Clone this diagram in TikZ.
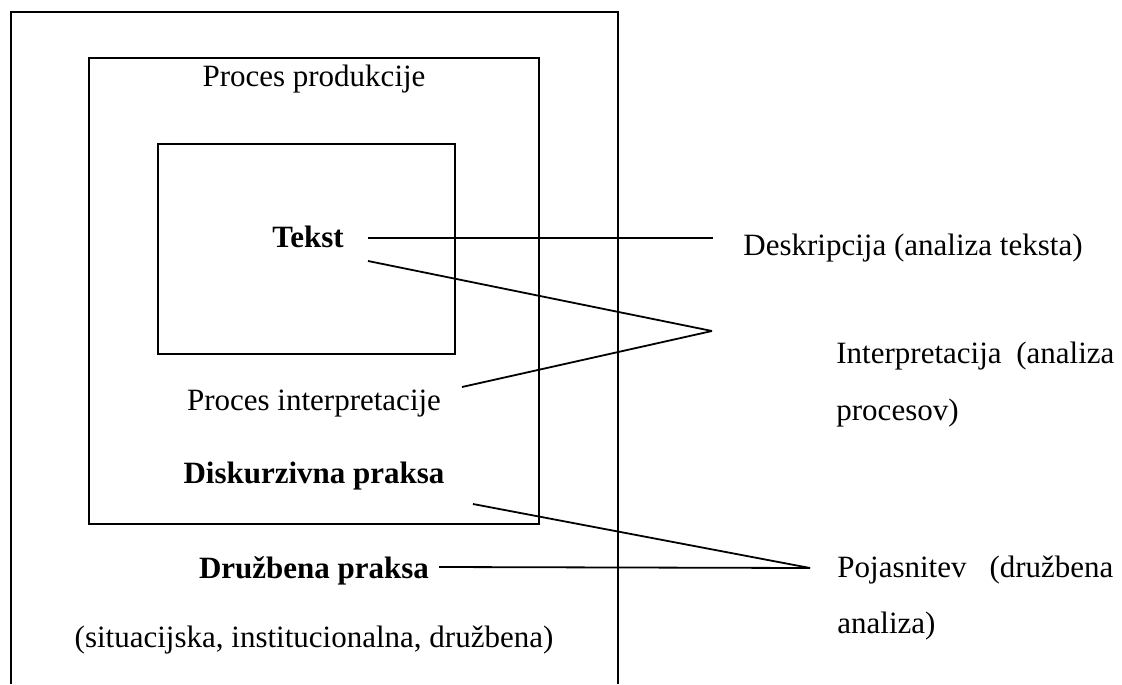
\documentclass[tikz,border=0pt]{standalone}
\usepackage{fontspec}
\setmainfont{Liberation Serif}
\usepackage{tikz}

\begin{document}
\begin{tikzpicture}[
    x=0.5pt, y=-0.5pt,
    box/.style={draw, line width=1pt},
    lbl/.style={inner sep=0pt, font=\fontsize{15.5}{28.5}\selectfont},
    bold/.style={lbl, font=\fontsize{15.5}{28.5}\selectfont\bfseries},
    link/.style={line width=0.9pt}
]
\useasboundingbox (0,0) rectangle (1122,684);

% frames
\draw[box, line width=1.2pt] (11,684) -- (11,12) -- (618,12) -- (618,684);
\draw[box] (89,58) rectangle (539,524);
\draw[box] (158,144) rectangle (455,354);

% labels inside the frames
\node[lbl, anchor=base] (prod) at (314,87) {Proces produkcije};
\node[bold, anchor=base] (tekst) at (308,247) {Tekst};
\node[lbl, anchor=base] (procint) at (314,410) {Proces interpretacije};
\node[bold, anchor=base] (diskurz) at (314,483) {Diskurzivna praksa};
\node[bold, anchor=base] (druzb) at (314,578) {Družbena praksa};
\node[lbl, anchor=base] (situ) at (314,647) {(situacijska, institucionalna, družbena)};

% labels on the right
\node[lbl, anchor=base west] (desk) at (743,255) {Deskripcija (analiza teksta)};
\node[lbl, anchor=base west] (interp) at (836,363) {\makebox[139pt][s]{Interpretacija (analiza}};
\node[lbl, anchor=base west] (interpb) at (836,420) {procesov)};
\node[lbl, anchor=base west] (poj) at (837,577) {\makebox[138pt][s]{Pojasnitev (družbena}};
\node[lbl, anchor=base west] (pojb) at (837,633) {analiza)};

% line ends
\coordinate (tk1) at (368,238);
\coordinate (tk2) at (368,261);
\coordinate (pi1) at (462,387);
\coordinate (dp1) at (473,504);
\coordinate (dz1) at (439,567);
\coordinate (deskend) at (713,238);
\coordinate (interpend) at (712,331);
\coordinate (pojend) at (810,568);

\draw[link] (tk1) -- (deskend);
\draw[link] (tk2) -- (interpend);
\draw[link] (pi1) -- (interpend);
\draw[link] (dp1) -- (pojend);
\draw[link] (dz1) -- (pojend);
\end{tikzpicture}
\end{document}
